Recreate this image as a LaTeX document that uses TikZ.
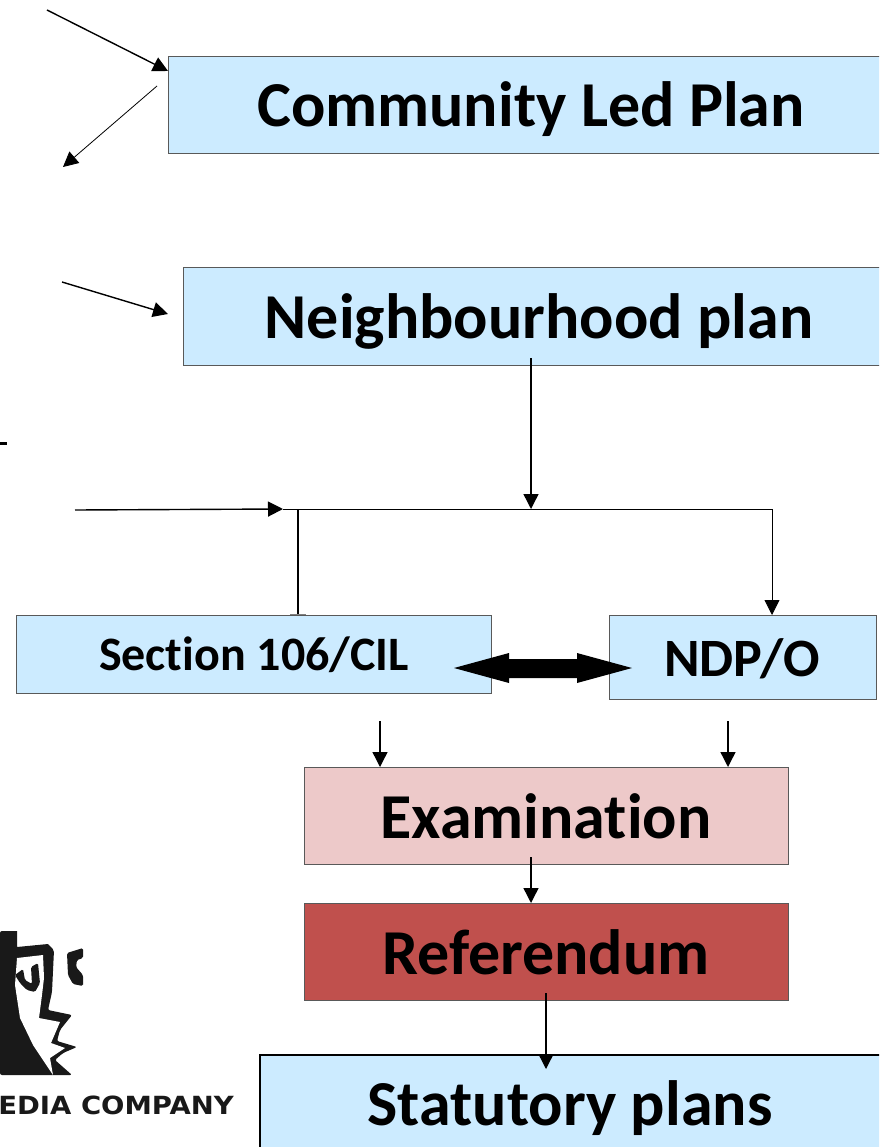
\documentclass[tikz,border=0pt]{standalone}
\usepackage{fontspec}
\setmainfont[Ligatures=CommonOff]{Carlito}
\newfontfamily\logofont{DejaVu Sans}
\usetikzlibrary{arrows.meta}
\tikzset{
  x=1pt,y=-1pt,
  planbox/.style={draw=black!65!white,line width=1pt,fill=#1,inner sep=0pt,anchor=north west,font=\bfseries},
  big label/.style={font=\fontsize{#1}{#1}\selectfont\bfseries,inner sep=0pt},
  link/.style={draw=black,line width=1.4pt,-{Triangle[length=15pt,width=15pt]}},
  thin link/.style={draw=black,line width=0.8pt,-{Triangle[length=15pt,width=15pt]}},
  plain link/.style={draw=black,line width=1.4pt},
  logo ink/.style={fill=black!90,rounded corners=1.5pt},
}
\definecolor{lightblue}{HTML}{CCEBFF}
\definecolor{pinkbox}{HTML}{EDC9C9}
\definecolor{redbox}{HTML}{C0504D}
\begin{document}
\begin{tikzpicture}
\useasboundingbox (0,0) rectangle (879,1147);
\clip (0,0) rectangle (879,1147);
% boxes
\node[planbox=lightblue,minimum width=720pt,minimum height=97pt] (clp) at (168,56) {};
\node[big label=64] (clpt) at (531,109) {Community Led Plan};
\node[planbox=lightblue,minimum width=705pt,minimum height=98pt] (np) at (183,267) {};
\node[big label=64] (npt) at (539,321) {Neighbourhood plan};
\node[planbox=lightblue,minimum width=475pt,minimum height=78pt] (s106) at (16,615) {};
\node[big label=48] (s106t) at (254,655) {Section 106/CIL};
\node[planbox=lightblue,minimum width=267pt,minimum height=84pt] (ndp) at (609,615) {};
\node[big label=54] (ndpt) at (742,659) {NDP/O};
\node[planbox=pinkbox,minimum width=484pt,minimum height=97pt] (exam) at (304,767) {};
\node[big label=64] (examt) at (546,816) {Examination};
\node[planbox=redbox,minimum width=484pt,minimum height=97pt] (ref) at (304,903) {};
\node[big label=64] (reft) at (546,952) {Referendum};
\node[draw=black,line width=2pt,fill=lightblue,inner sep=0pt,anchor=north west,minimum width=660pt,minimum height=120pt] (stat) at (258.5,1054) {};
\node[big label=64] (statt) at (570,1108) {Statutory plans};
% free ends
\coordinate (a1) at (47,10);
\coordinate (a1e) at (168,71);
\coordinate (a2) at (157,86);
\coordinate (a2e) at (63,167);
\coordinate (a3) at (62,282);
\coordinate (a3e) at (168,314);
\coordinate (j) at (531,509);
\coordinate (j1) at (298,509);
\coordinate (j2) at (772,509);
\coordinate (a4) at (75,510);
\coordinate (a4e) at (283,509);
\coordinate (a5) at (380,721);
\coordinate (a5e) at (380,767);
\coordinate (a6) at (728,721);
\coordinate (a6e) at (728,767);
\coordinate (dl) at (454,668);
\coordinate (t1) at (0,443.5);
\coordinate (t2) at (7,443.5);
\coordinate (e1) at (531,857);
\coordinate (e2) at (531,903);
\coordinate (r1) at (546,993);
\coordinate (r2) at (546,1069);
\coordinate (np1) at (531,358);
\coordinate (tickl) at (290,614);
\coordinate (tickr) at (306,614);
% connectors
\draw[link] (a1) -- (a1e);
\draw[thin link] (a2) -- (a2e);
\draw[link] (a3) -- (a3e);
\draw[link] (np1) -- (j);
\draw[plain link] (j1 |- s106.north) -- (j1);
\draw[black!50,line width=0.8pt] (tickl) -- (tickr);
\draw[thin link] (a4e) -- (j2) -- (j2 |- ndp.north);
\draw[link] (a4) -- (a4e);
\draw[link] (a5) -- (a5e);
\draw[link] (a6) -- (a6e);
\draw[link] (e1) -- (e2);
\draw[link] (r1) -- (r2);
\draw[line width=2.2pt] (t1) -- (t2);
\fill[black] (dl) -- (509,653) -- (509,659) -- (577,659) -- (577,653) -- (632,668) -- (577,683) -- (577,678) -- (509,678) -- (509,683) -- cycle;
% logo
\fill[logo ink,sharp corners] (0,931) -- (17,931) -- (17,947) -- (48,944) [rounded corners=2pt] -- (54,950) -- (52,992) -- (48,1010) -- (72,1015) -- (60,1030) -- (57,1041) -- (77,1047) -- (63,1053) -- (55,1060) -- (72,1075) -- (0,1075) -- cycle;
\fill[white] (17,958) -- (43,955) -- (44,978) -- (42,995) -- (39,1018) -- (60,1022) -- (51,1043) -- (65,1048) -- (50,1058) -- (53,1075) -- (33,1045) -- (20,1018) -- (15,985) -- cycle;
\fill[logo ink] (15,975) -- (23,969) -- (25,980) -- (32,984) -- (31,967) -- (38,963) -- (40,983) -- (35,992) -- (27,990) -- (20,983) -- cycle;
\fill[logo ink] (67,953) -- (83,948) -- (83,958) -- (77,960) -- (76,967) -- (83,975) -- (83,986) -- (73,984) -- (68,975) -- cycle;
\node[font=\logofont\bfseries\fontsize{25}{25}\selectfont,text=black!90,anchor=east,xscale=1.1,transform shape,inner sep=0pt] (logo) at (234,1105) {EDIA COMPANY};
\end{tikzpicture}
\end{document}
